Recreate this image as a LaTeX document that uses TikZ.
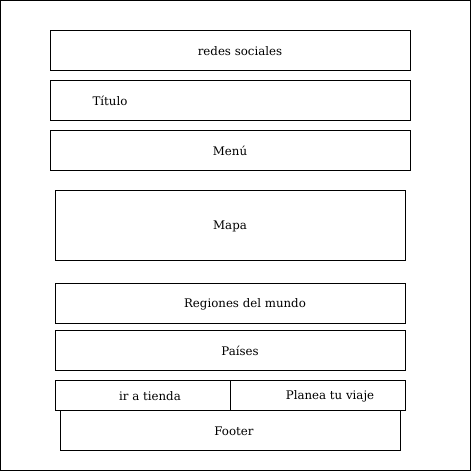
\documentclass[tikz,border=0pt]{standalone}
\usepackage{fontspec}
\setmainfont{DejaVu Serif}
\begin{document}
\begin{tikzpicture}[x=1pt,y=-1pt,
  box/.style={draw=black,line width=0.8pt,inner sep=0pt},
  lbl/.style={font=\fontsize{11.8}{13}\selectfont,inner sep=0pt}]
\useasboundingbox (0,0) rectangle (471,471);
\draw[line width=0.8pt] (0.5,0.5) rectangle (470.5,470.5);
\draw[box] (50,30) rectangle (410,70);
\node[lbl] (redes) at (240,51) {redes sociales};
\draw[box] (50,80) rectangle (410,120);
\node[lbl] (titulo) at (110,101) {Título};
\draw[box] (50,130) rectangle (410,170);
\node[lbl] (menu) at (230,151) {Menú};
\draw[box] (55,190) rectangle (405,260);
\node[lbl] (mapa) at (230,226) {Mapa};
\draw[box] (55,283) rectangle (405,323);
\node[lbl] (regiones) at (245,304) {Regiones del mundo};
\draw[box] (55,330) rectangle (405,370);
\node[lbl] (paises) at (240,351) {Países};
\draw[box] (55,380) rectangle (230,410);
\node[lbl] (tienda) at (150,396) {ir a tienda};
\draw[box] (230,380) rectangle (405,410);
\node[lbl] (viaje) at (330,396) {Planea tu viaje};
\draw[box] (60,410) rectangle (400,450);
\node[lbl] (footer) at (234,431) {Footer};
\end{tikzpicture}
\end{document}
